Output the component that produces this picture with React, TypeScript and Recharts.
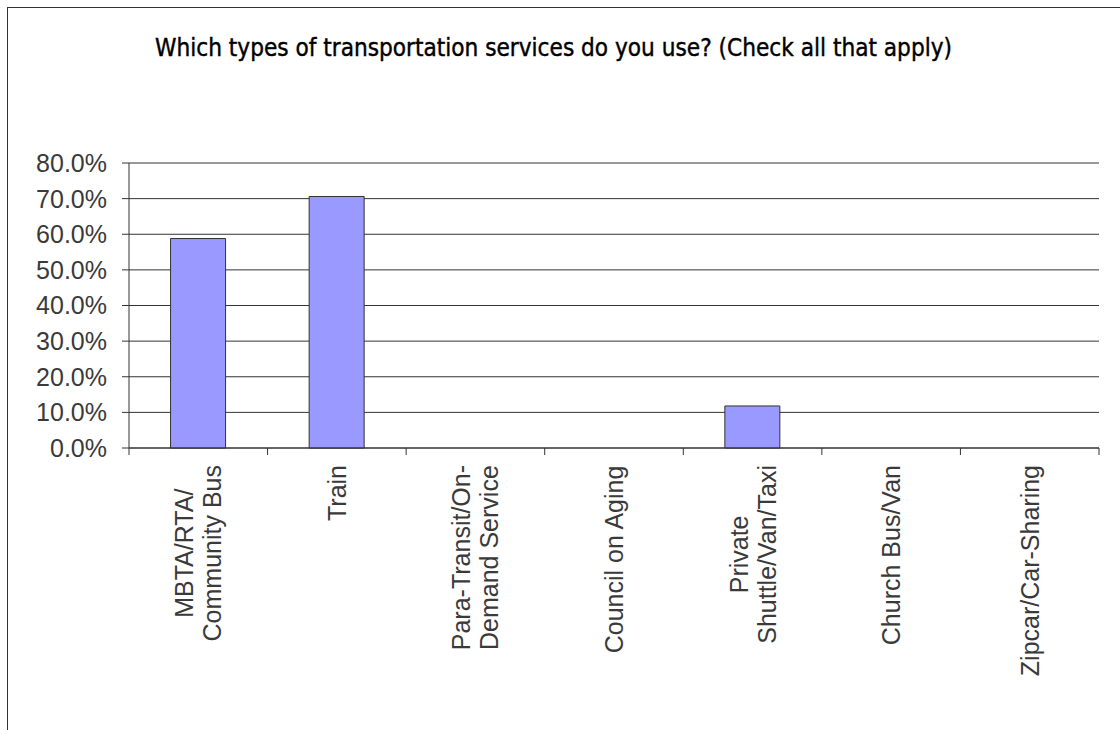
import React from "react";
import { BarChart, Bar, XAxis, YAxis, CartesianGrid } from "recharts";

const categories = [
  "MBTA/RTA/Community Bus",
  "Train",
  "Para-Transit/On-Demand Service",
  "Council on Aging",
  "Private Shuttle/Van/Taxi",
  "Church Bus/Van",
  "Zipcar/Car-Sharing",
];
const tickLines = [
  ["MBTA/RTA/", "Community Bus"],
  ["Train"],
  ["Para-Transit/On-", "Demand Service"],
  ["Council on Aging"],
  ["Private", "Shuttle/Van/Taxi"],
  ["Church Bus/Van"],
  ["Zipcar/Car-Sharing"],
];
const usage = [58.8, 70.6, 0, 0, 11.8, 0, 0];
const yTicks = [0, 10, 20, 30, 40, 50, 60, 70, 80];

const data = categories.map((name, i) => ({ name, v: usage[i] }));

const W = 1112;
const H = 722;
const M = { top: 155, right: 21, left: 0, bottom: 0 };
const Y_W = 121;
const BAND = (W - Y_W - M.right) / categories.length;
const FONT = "'Liberation Sans', Arial, sans-serif";
const LABEL_SIZE = 25;
const TEXT = "#3a3a3a";

let ctx: CanvasRenderingContext2D | null = null;
function measure(s: string) {
  if (!ctx) ctx = document.createElement("canvas").getContext("2d");
  if (!ctx) return s.length * LABEL_SIZE * 0.5;
  ctx.font = `${LABEL_SIZE}px ${FONT}`;
  return ctx.measureText(s).width;
}

// category label, rotated; multi-line labels are centred on the longest line
function CatTick(props: any) {
  const { x, y, index } = props;
  const half = props.payload?.offset > 0 ? props.payload.offset : BAND / 2;
  const lines = tickLines[index] || [String(props.payload?.value)];
  const blockW = Math.max(...lines.map(measure));
  const n = lines.length;
  const top = y + 17;
  return (
    <g>
      <line x1={x - half} x2={x - half} y1={y} y2={y + 7} stroke="#333" />
      {index === categories.length - 1 && (
        <line x1={x + half} x2={x + half} y1={y} y2={y + 7} stroke="#333" />
      )}
      <g transform={`translate(${x},${top}) rotate(-90)`}>
        {lines.map((l, i) => (
          <text
            key={i}
            x={-blockW / 2}
            y={(i - (n - 1) / 2) * 28 + 9}
            textAnchor="middle"
            fontFamily={FONT}
            fontSize={LABEL_SIZE}
            fill={TEXT}
          >
            {l}
          </text>
        ))}
      </g>
    </g>
  );
}

export default function App() {
  return (
    <div
      style={{
        position: "absolute",
        left: 7,
        top: 7,
        width: W + 1,
        height: H + 1,
        boxSizing: "border-box",
        borderTop: "1px solid #333",
        borderLeft: "1px solid #333",
        background: "#fff",
        overflow: "hidden",
      }}
    >
      <BarChart width={W} height={H} data={data} margin={M} barCategoryGap="30%">
        <CartesianGrid vertical={false} stroke="#333" />
        <XAxis
          dataKey="name"
          height={H - M.top - 285}
          axisLine={{ stroke: "#333" }}
          tickLine={false}
          tickSize={0}
          tickMargin={0}
          interval={0}
          tick={<CatTick />}
        />
        <YAxis
          width={Y_W}
          domain={[0, 80]}
          ticks={yTicks}
          interval={0}
          tickFormatter={(v: number) => `${v.toFixed(1)}%`}
          tickSize={7}
          tickMargin={15}
          axisLine={{ stroke: "#333" }}
          tickLine={{ stroke: "#333" }}
          tick={{ fill: TEXT, fontSize: LABEL_SIZE, fontFamily: FONT }}
        />
        <Bar dataKey="v" fill="#9999ff" stroke="#333" strokeWidth={1} isAnimationActive={false} />
      </BarChart>
      <svg
        width={W}
        height={80}
        style={{ position: "absolute", left: 0, top: 0, pointerEvents: "none" }}
      >
        <text
          x={147}
          y={48}
          textLength={797}
          lengthAdjust="spacingAndGlyphs"
          fontFamily="'DejaVu Sans Condensed', 'Liberation Sans Narrow', 'Liberation Sans', sans-serif"
          fontSize={24}
          fill="#000"
          stroke="#000"
          strokeWidth={0.4}
        >
          Which types of transportation services do you use? (Check all that apply)
        </text>
      </svg>
    </div>
  );
}
